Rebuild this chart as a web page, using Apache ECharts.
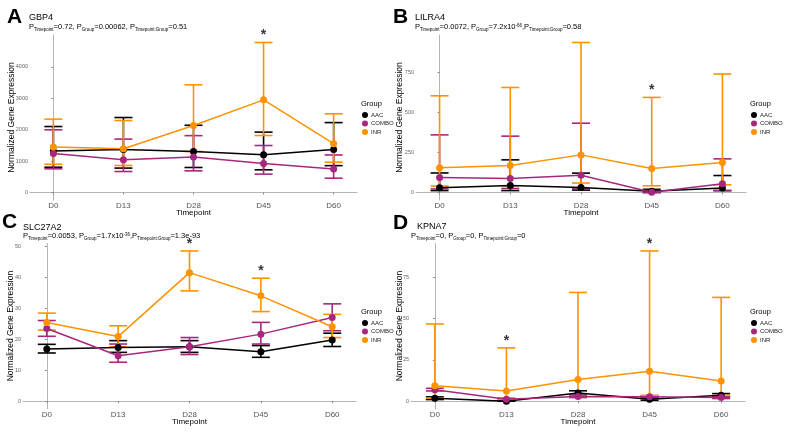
<!DOCTYPE html>
<html>
<head>
<meta charset="utf-8">
<script src="https://cdn.jsdelivr.net/npm/echarts@6/dist/echarts.min.js"></script>
<style>
  html, body { margin: 0; padding: 0; background: #fff; }
  #chart { width: 788px; height: 432px; }
</style>
</head>
<body>
<div id="chart"></div>
<script>
var timepoints = ['D0', 'D13', 'D28', 'D45', 'D60'];
var groups = ['AAC', 'COMBO', 'INR'];
var groupColors = ['#000000', '#A8277E', '#FF9200'];

// rows: AAC, COMBO, INR
var gbp4Mean  = [[1320, 1370, 1305, 1200, 1365], [1240, 1041, 1127, 925, 745], [1445, 1395, 2133, 2950, 1555]];
var gbp4Lower = [[805, 777, 796, 722, 855], [754, 668, 690, 585, 455], [900, 860, 1305, 1814, 965]];
var gbp4Upper = [[2100, 2387, 2140, 1922, 2225], [1996, 1700, 1810, 1496, 1195], [2336, 2292, 3427, 4775, 2505]];
var gbp4Stars = [3];
var gbp4Ticks = [0, 1000, 2000, 3000, 4000];

var lilra4Mean  = [[29, 43, 31, 8, 28], [93, 88, 108, 2, 54], [155, 168, 235, 150, 188]];
var lilra4Lower = [[12, 12, 15, 0, 12], [22, 25, 25, 0, 12], [40, 42, 59, 42, 48]];
var lilra4Upper = [[122, 204, 121, 20, 106], [360, 352, 433, 12, 210], [604, 656, 937, 594, 740]];
var lilra4Stars = [3];
var lilra4Ticks = [0, 250, 500, 750];

var slc27a2Mean  = [[16.9, 17.4, 17.6, 16.0, 19.8], [23.5, 14.7, 17.6, 21.7, 27.1], [25.5, 20.9, 41.6, 34.1, 24.1]];
var slc27a2Lower = [[15.6, 15.8, 15.8, 14.2, 17.7], [21.0, 12.6, 15.1, 18.5, 22.8], [23.0, 17.6, 35.7, 29.0, 20.6]];
var slc27a2Upper = [[18.4, 19.6, 19.6, 18.0, 22.0], [26.1, 18.5, 20.6, 25.5, 31.5], [28.5, 24.4, 48.6, 39.8, 28.1]];
var slc27a2Stars = [2, 3];
var slc27a2Ticks = [0, 10, 20, 30, 40, 50];

var kpna7Mean  = [[1.8, 0, 5.0, 1.2, 3.6], [7.0, 1.2, 2.8, 2.7, 2.2], [9.3, 6.2, 13.1, 18.1, 12.3]];
var kpna7Lower = [[1.0, 0, 3.6, 0.6, 2.6], [6.2, 0.6, 2.2, 2.0, 1.6], [1.8, 1.2, 2.9, 3.4, 3.5]];
var kpna7Upper = [[2.6, 0.6, 6.3, 2.0, 4.6], [7.8, 1.8, 3.4, 3.4, 2.8], [46.8, 32.3, 65.9, 91.0, 62.9]];
var kpna7Stars = [1, 3];
var kpna7Ticks = [0, 25, 50, 75];

var pTexts = [
  '{p|P}{s|Timepoint}{p|=0.72, P}{s|Group}{p|=0.00062, P}{s|Timepoint:Group}{p|=0.51}{z| }',
  '{p|P}{s|Timepoint}{p|=0.0072, P}{s|Group}{p|=7.2x10}{u|-66}{p|,P}{s|Timepoint:Group}{p|=0.58}{z| }',
  '{p|P}{s|Timepoint}{p|=0.0053, P}{s|Group}{p|=1.7x10}{u|-36}{p|,P}{s|Timepoint:Group}{p|=1.3e-93}{z| }',
  '{p|P}{s|Timepoint}{p|=0, P}{s|Group}{p|=0, P}{s|Timepoint:Group}{p|=0}{z| }'
];

var panels = [
  { letter: 'A', gene: 'GBP4', mean: gbp4Mean, lower: gbp4Lower, upper: gbp4Upper, stars: gbp4Stars, ticks: gbp4Ticks },
  { letter: 'B', gene: 'LILRA4', mean: lilra4Mean, lower: lilra4Lower, upper: lilra4Upper, stars: lilra4Stars, ticks: lilra4Ticks },
  { letter: 'C', gene: 'SLC27A2', mean: slc27a2Mean, lower: slc27a2Lower, upper: slc27a2Upper, stars: slc27a2Stars, ticks: slc27a2Ticks },
  { letter: 'D', gene: 'KPNA7', mean: kpna7Mean, lower: kpna7Lower, upper: kpna7Upper, stars: kpna7Stars, ticks: kpna7Ticks }
];

// layout of each panel
var layout = [
  { grid: [30, 35, 327, 165], letter: [7, 7], gene: [29, 13], sub: [29, 23], group: [361, 100], legend: [362, 112], nameGap: 14 },
  { grid: [416, 35, 330, 165], letter: [393, 7], gene: [415, 13], sub: [415, 23], group: [750, 100], legend: [751, 112], nameGap: 12 },
  { grid: [23, 243.5, 333, 165.2], letter: [2, 212], gene: [23, 222.5], sub: [23, 232], group: [361, 308], legend: [362, 320], nameGap: 8 },
  { grid: [411, 243.5, 334, 165.2], letter: [393, 213], gene: [417, 222], sub: [411, 231.5], group: [750, 308], legend: [751, 320], nameGap: 7 }
];

var font = 'Liberation Sans';
var chart = echarts.init(document.getElementById('chart'));

var titles = [], grids = [], xAxes = [], yAxes = [], legends = [], series = [];

panels.forEach(function (pn, k) {
  var L = layout[k];
  var hi = Math.max.apply(null, [].concat.apply([], pn.upper));
  var pad = hi * 0.05;

  titles.push({ text: pn.letter, left: L.letter[0], top: L.letter[1], padding: 0,
    textStyle: { fontFamily: font, fontSize: 21, fontWeight: 'bold', color: '#000', lineHeight: 21 } });
  titles.push({ text: pn.gene, left: L.gene[0], top: L.gene[1], padding: 0,
    textStyle: { fontFamily: font, fontSize: 9, fontWeight: 'normal', color: '#000', lineHeight: 10 } });
  titles.push({ text: pTexts[k], left: L.sub[0], top: L.sub[1], padding: 0,
    textStyle: { fontFamily: font, fontWeight: 'normal', color: '#000',
      rich: {
        p: { fontFamily: font, fontSize: 7.5, lineHeight: 8, verticalAlign: 'top', color: '#000' },
        s: { fontFamily: font, fontSize: 4.5, lineHeight: 4.5, verticalAlign: 'bottom', color: '#000' },
        u: { fontFamily: font, fontSize: 4.5, lineHeight: 4.5, verticalAlign: 'top', color: '#000' },
        z: { fontSize: 1, lineHeight: 9.5 }
      } } });
  titles.push({ text: 'Group', left: L.group[0], top: L.group[1], padding: 0,
    textStyle: { fontFamily: font, fontSize: 7.5, fontWeight: 'normal', color: '#000', lineHeight: 8 } });

  legends.push({
    data: groups, left: L.legend[0], top: L.legend[1], orient: 'vertical', icon: 'circle',
    itemWidth: 6, itemHeight: 6, itemGap: 2.5, padding: 0, selectedMode: false,
    textStyle: { fontFamily: font, fontSize: 6, color: '#222', lineHeight: 6, padding: [0, 0, 0, -2] }
  });

  grids.push({ left: L.grid[0], top: L.grid[1], width: L.grid[2], height: L.grid[3] });

  xAxes.push({
    type: 'value', gridIndex: k, min: -1 / 3, max: 4 + 1 / 3,
    name: 'Timepoint', nameLocation: 'middle', nameGap: 9, nameMoveOverlap: false,
    nameTextStyle: { fontFamily: font, fontSize: 8, color: '#000', verticalAlign: 'top' },
    axisLine: { lineStyle: { color: '#b5b5b5', width: 1 } },
    axisTick: { show: true, length: 2, customValues: [0, 1, 2, 3, 4], lineStyle: { color: '#888' } },
    axisLabel: { customValues: [0, 1, 2, 3, 4], margin: 2, fontFamily: font, fontSize: 8, color: '#555',
      formatter: function (v) { return timepoints[Math.round(v)]; } },
    splitLine: { show: false }
  });

  yAxes.push({
    type: 'value', gridIndex: k, min: -pad, max: hi + pad,
    name: 'Normalized Gene Expression', nameLocation: 'middle', nameGap: L.nameGap, nameMoveOverlap: false,
    nameTextStyle: { fontFamily: font, fontSize: 8.5, color: '#000' },
    axisLine: { show: true, lineStyle: { color: '#b5b5b5', width: 1 } },
    axisTick: { show: true, length: 2, customValues: pn.ticks, lineStyle: { color: '#888' } },
    axisLabel: { customValues: pn.ticks, margin: 2, fontFamily: font, fontSize: 5.5, color: '#666',
      formatter: function (v) { return String(v); } },
    splitLine: { show: false }
  });

  // error bars
  groups.forEach(function (g, gi) {
    var col = groupColors[gi];
    series.push({
      type: 'custom', name: g + ' sd', xAxisIndex: k, yAxisIndex: k,
      data: timepoints.map(function (t, i) { return [i, pn.lower[gi][i], pn.upper[gi][i]]; }),
      encode: { x: 0, y: [1, 2] },
      renderItem: function (params, api) {
        var a = api.coord([api.value(0), api.value(1)]);
        var b = api.coord([api.value(0), api.value(2)]);
        var w = 9;
        var st = { stroke: col, lineWidth: 1.6 };
        return { type: 'group', children: [
          { type: 'line', shape: { x1: a[0], y1: a[1], x2: b[0], y2: b[1] }, style: st },
          { type: 'line', shape: { x1: a[0] - w, y1: a[1], x2: a[0] + w, y2: a[1] }, style: st },
          { type: 'line', shape: { x1: b[0] - w, y1: b[1], x2: b[0] + w, y2: b[1] }, style: st }
        ] };
      }
    });
  });

  // mean lines + points
  groups.forEach(function (g, gi) {
    series.push({
      type: 'line', name: g, xAxisIndex: k, yAxisIndex: k,
      data: timepoints.map(function (t, i) { return [i, pn.mean[gi][i]]; }),
      symbol: 'circle', symbolSize: 7, showSymbol: true,
      itemStyle: { color: groupColors[gi] },
      lineStyle: { color: groupColors[gi], width: 1.5 },
      emphasis: { disabled: true }, animation: false
    });
  });

  // significance stars above INR upper bars
  series.push({
    type: 'scatter', name: 'sig', xAxisIndex: k, yAxisIndex: k, clip: false,
    data: pn.stars.map(function (i) { return [i, pn.upper[2][i]]; }),
    symbolSize: 0,
    label: { show: true, formatter: '*', position: 'top', distance: 0,
      fontFamily: font, fontSize: 14, fontWeight: 'bold', color: '#000' },
    silent: true
  });
});

chart.setOption({
  animation: false,
  backgroundColor: '#fff',
  title: titles,
  legend: legends,
  grid: grids,
  xAxis: xAxes,
  yAxis: yAxes,
  series: series
});
</script>
</body>
</html>
